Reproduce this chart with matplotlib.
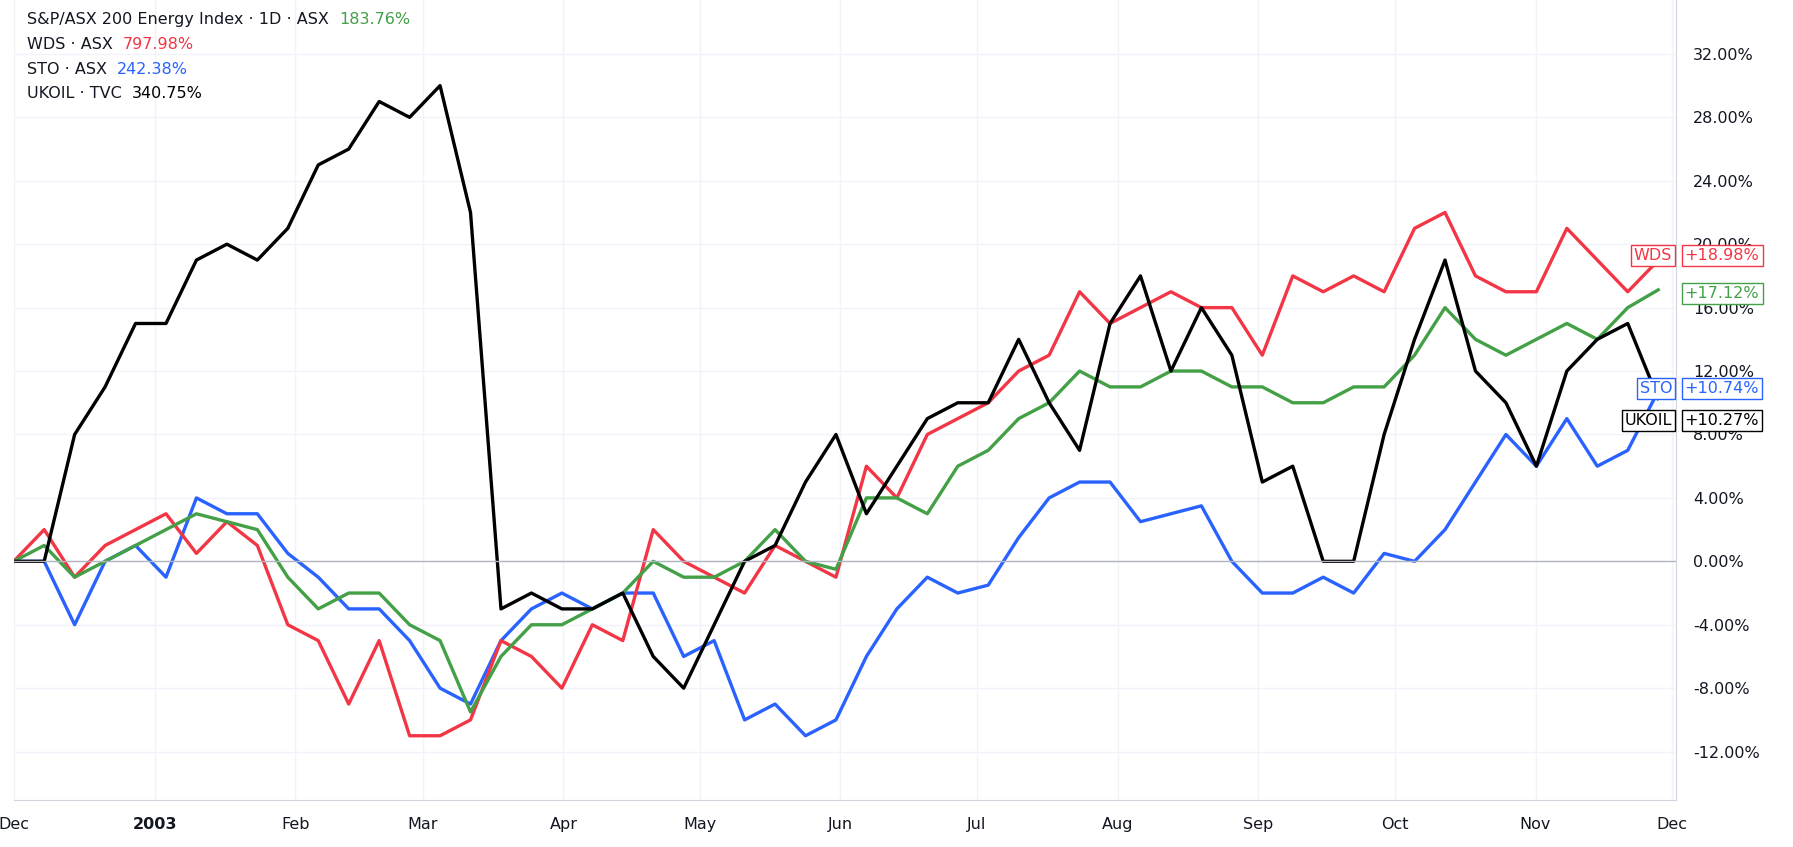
import matplotlib
matplotlib.use("Agg")
import matplotlib.pyplot as plt
import pandas as pd

dates = pd.date_range("2002-12-01", "2003-11-28", periods=55)

ukoil = [0,0,8,11,15,15,19,20,19,21,25,26,29,28,30,22,-3,-2,-3,-3,-2,-6,-8,-4,0,1,5,8,3,6,9,10,10,14,10,7,15,18,12,16,13,5,6,0,0,8,14,19,12,10,6,12,14,15,10.27]
wds = [0,2,-1,1,2,3,0.5,2.5,1,-4,-5,-9,-5,-11,-11,-10,-5,-6,-8,-4,-5,2,0,-1,-2,1,0,-1,6,4,8,9,10,12,13,17,15,16,17,16,16,13,18,17,18,17,21,22,18,17,17,21,19,17,18.98]
sto = [0,0,-4,0,1,-1,4,3,3,0.5,-1,-3,-3,-5,-8,-9,-5,-3,-2,-3,-2,-2,-6,-5,-10,-9,-11,-10,-6,-3,-1,-2,-1.5,1.5,4,5,5,2.5,3,3.5,0,-2,-2,-1,-2,0.5,0,2,5,8,6,9,6,7,10.74]
energy = [0,1,-1,0,1,2,3,2.5,2,-1,-3,-2,-2,-4,-5,-9.5,-6,-4,-4,-3,-2,0,-1,-1,0,2,0,-0.5,4,4,3,6,7,9,10,12,11,11,12,12,11,11,10,10,11,11,13,16,14,13,14,15,14,16,17.12]

series = [
    ("S&P/ASX 200 Energy Index · 1D · ASX", "183.76%", energy, "#43a047"),
    ("WDS · ASX", "797.98%", wds, "#f23645"),
    ("STO · ASX", "242.38%", sto, "#2962ff"),
    ("UKOIL · TVC", "340.75%", ukoil, "#000000"),
]
FS = 11.5
W, H = 1568, 741
fig = plt.figure(figsize=(17.93, 8.47), dpi=100)
ax = fig.add_axes([12/W, (H-700)/H, 1454/W, 700/H])
for name, tot, vals, col in [series[2], series[1], series[0], series[3]]:
    ax.plot(dates, vals, color=col, lw=2.4)
ax.axhline(0, color="#b2b5be", lw=1)
ax.set_xlim(pd.Timestamp("2002-12-01"), pd.Timestamp("2003-12-02"))
ax.set_ylim(-15.06, 35.4)
ax.yaxis.tick_right()
yt = list(range(-12, 33, 4))
ax.set_yticks(yt)
ax.set_yticklabels([f"{v:.2f}%" for v in yt], fontsize=FS, color="#131722")
ax.grid(True, color="#f0f3fa", lw=1)
xt = [pd.Timestamp("2002-12-01")] + [pd.Timestamp(f"2003-{m:02d}-01") for m in range(1, 13)]
ax.set_xticks(xt)
lab = ["Dec", "2003", "Feb", "Mar", "Apr", "May", "Jun", "Jul", "Aug", "Sep", "Oct", "Nov", "Dec"]
ax.set_xticklabels(lab, fontsize=FS, color="#131722")
ax.get_xticklabels()[1].set_fontweight("bold")
ax.tick_params(length=0, pad=12)
for s in ["top", "left"]:
    ax.spines[s].set_visible(False)
ax.spines["right"].set_color("#d1d4dc")
ax.spines["bottom"].set_color("#d1d4dc")

y0 = 0.985
for i, (name, tot, vals, col) in enumerate(series):
    t = ax.text(0.008, y0 - i*0.031, name + "  ", transform=ax.transAxes, fontsize=FS, color="#131722", va="top")
    fig.canvas.draw()
    bb = t.get_window_extent().transformed(ax.transAxes.inverted())
    ax.text(bb.x1, y0 - i*0.031, tot, transform=ax.transAxes, fontsize=FS, color=col, va="top")

ends = [("WDS", "#f23645", 18.98, 19.3), ("", "#43a047", 17.12, 16.9), ("STO", "#2962ff", 10.74, 10.9), ("UKOIL", "#000000", 10.27, 8.9)]
for tag, col, v, yy in ends:
    ax.annotate(f"+{v:.2f}%", xy=(1.0, yy), xycoords=("axes fraction", "data"), xytext=(6, 0),
                textcoords="offset points", va="center", ha="left", fontsize=FS, color=col, zorder=10,
                annotation_clip=False,
                bbox=dict(boxstyle="square,pad=0.2", fc="white", ec=col, lw=1))
    if tag:
        ax.annotate(tag, xy=(1.0, yy), xycoords=("axes fraction", "data"), xytext=(-3, 0),
                    textcoords="offset points", va="center", ha="right", fontsize=FS, color=col, zorder=10,
                    bbox=dict(boxstyle="square,pad=0.2", fc="white", ec=col, lw=1))
fig.savefig("out.png", dpi=100)
